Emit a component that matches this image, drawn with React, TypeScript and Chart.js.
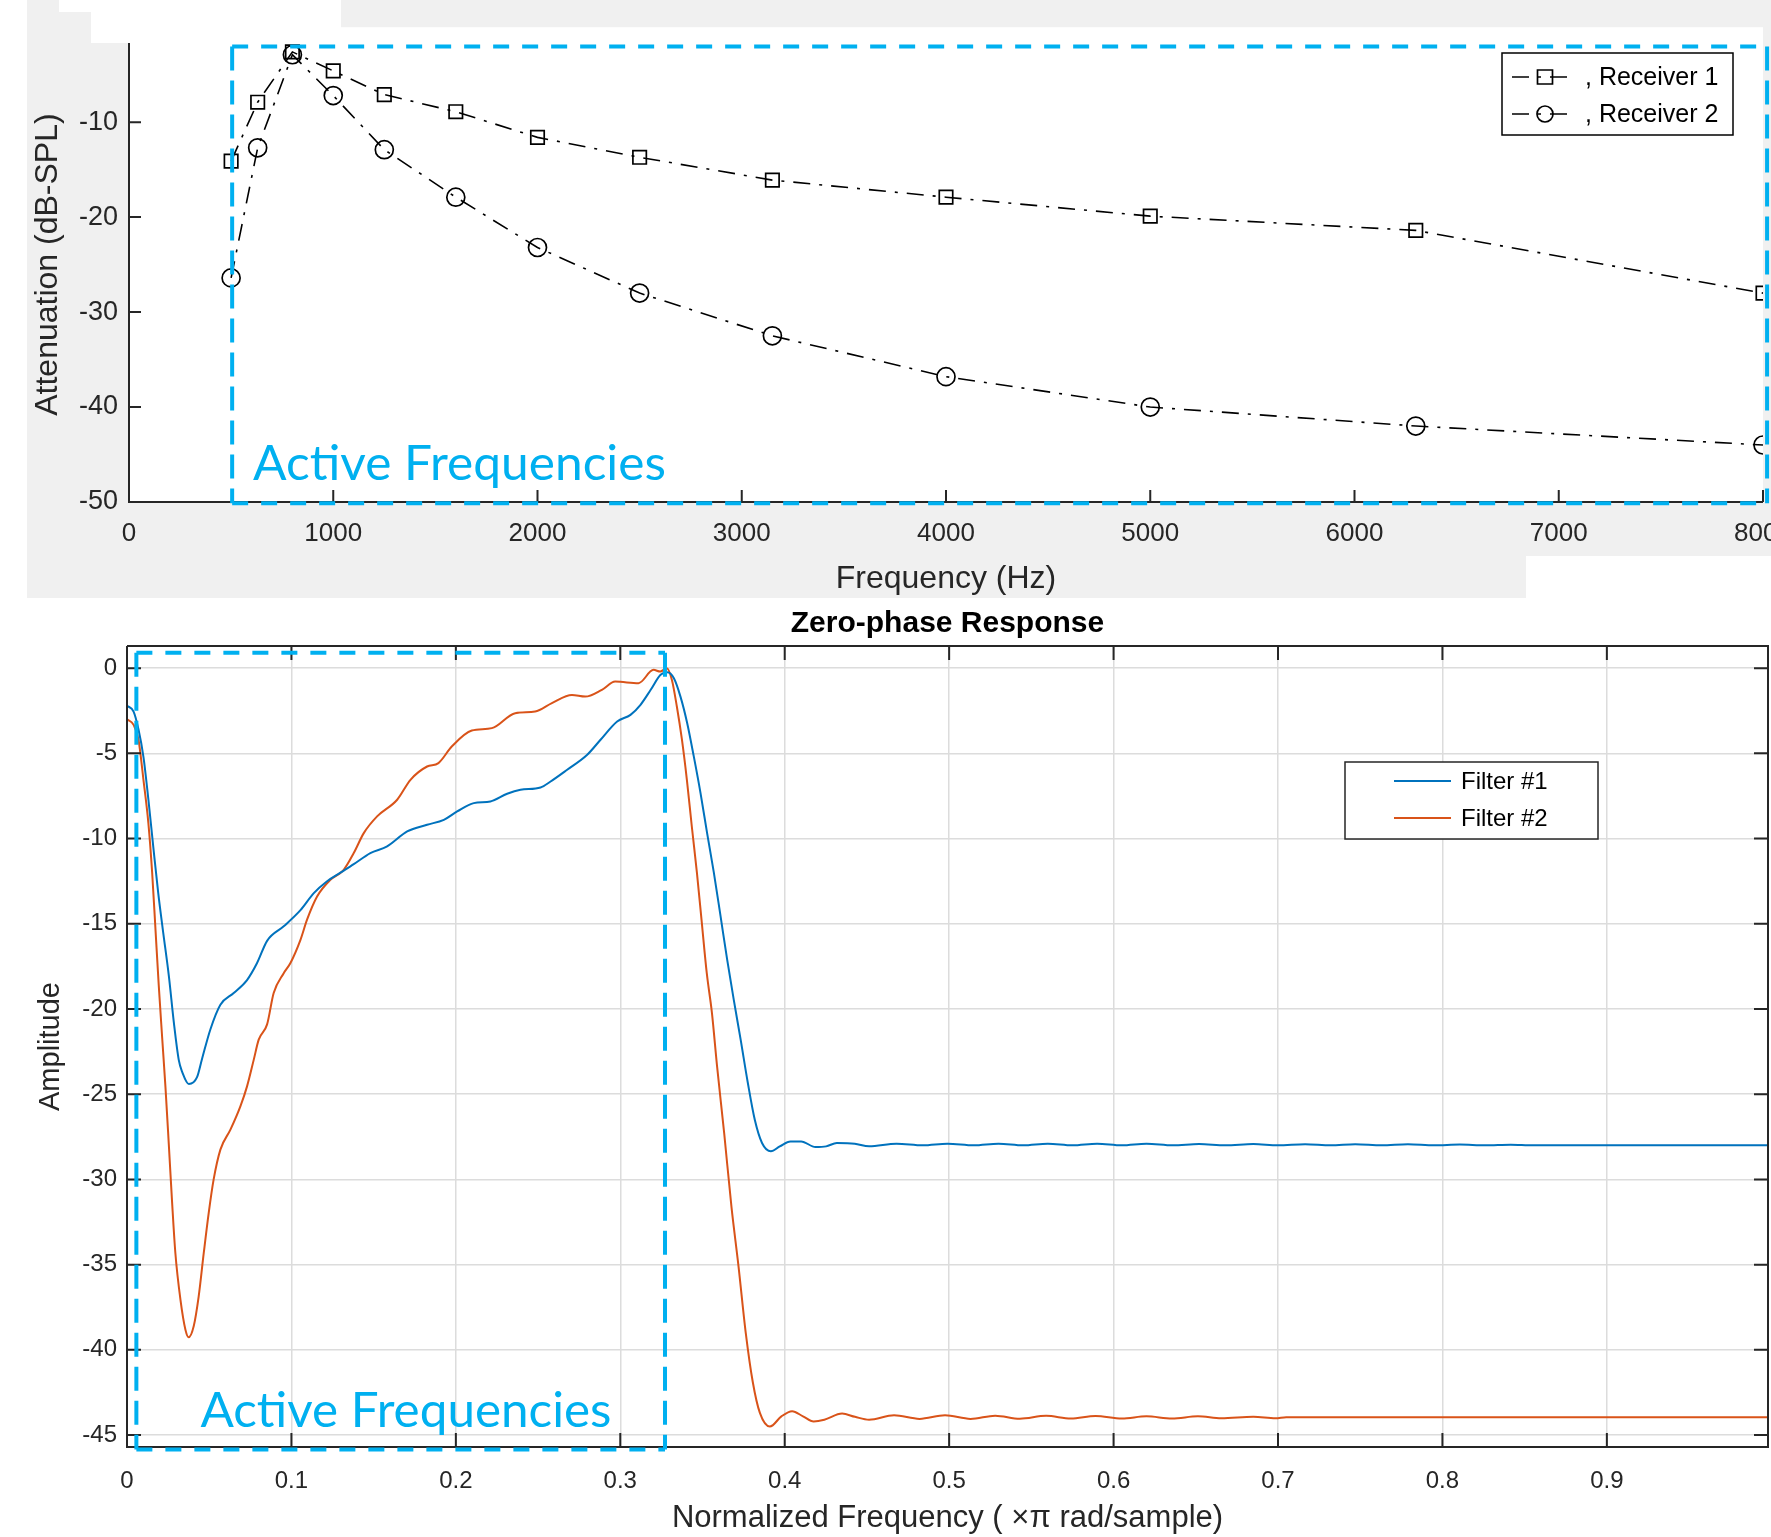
import React, { useEffect, useRef } from 'react';
import { Chart, registerables } from 'chart.js';

Chart.register(...registerables);

const FONT = "'Liberation Sans', Arial, Helvetica, sans-serif";
const ANNOT_FONT = "Lato, 'Open Sans', sans-serif";
const AXIS_COLOR = '#262626';
const HIGHLIGHT = '#00B0F0';
const ANNOT_TEXT = 'Active Frequencies';

// ---------------- Top chart: attenuation per receiver ----------------
const frequencyHz = [500, 630, 800, 1000, 1250, 1600, 2000, 2500, 3150, 4000, 5000, 6300, 8000];
const receiver1Db = [-14.1, -7.9, -2.6, -4.6, -7.1, -8.9, -11.6, -13.7, -16.1, -17.9, -19.9, -21.4, -28.0];
const receiver2Db = [-26.4, -12.7, -2.9, -7.2, -12.9, -17.9, -23.2, -28.0, -32.5, -36.8, -40.0, -42.0, -44.0];
const topXTickValues = [0, 1000, 2000, 3000, 4000, 5000, 6000, 7000, 8000];
const topYTickValues = [-50, -40, -30, -20, -10, 0];

// ---------------- Bottom chart: zero-phase response ----------------
const filter1Response: [number, number][] = [
  [0, -2.2], [0.004, -2.55], [0.007, -3.6], [0.01, -5.2], [0.013, -7.7], [0.016, -10.5],
  [0.019, -13.2], [0.022, -15.5], [0.0255, -18.1], [0.0285, -20.8], [0.0315, -23.0],
  [0.0336, -23.7], [0.0376, -24.4], [0.0426, -24.0], [0.0457, -22.9], [0.0507, -21.2],
  [0.0568, -19.75], [0.0649, -19.06], [0.073, -18.3], [0.0791, -17.3], [0.0852, -16.0],
  [0.0953, -15.15], [0.1055, -14.2], [0.1136, -13.2], [0.1217, -12.5], [0.1298, -12.0],
  [0.1379, -11.5], [0.148, -10.85], [0.1582, -10.46], [0.1704, -9.58], [0.1825, -9.19],
  [0.1927, -8.9], [0.2008, -8.41], [0.2109, -7.92], [0.221, -7.82], [0.2312, -7.37],
  [0.2393, -7.14], [0.2515, -7.0], [0.2576, -6.65], [0.2677, -5.96], [0.2799, -5.08],
  [0.288, -4.2], [0.2981, -3.13], [0.3062, -2.74], [0.3123, -2.15], [0.3185, -1.27],
  [0.3245, -0.39], [0.3285, -0.24], [0.3326, -0.59], [0.3366, -1.67], [0.3407, -3.23],
  [0.3447, -5.18], [0.3488, -7.33], [0.3528, -9.68], [0.3569, -12.0], [0.361, -14.57],
  [0.365, -17.1], [0.369, -19.45], [0.3732, -21.8], [0.3775, -24.3], [0.3818, -26.5],
  [0.3862, -27.86], [0.3916, -28.35], [0.397, -28.06], [0.4035, -27.77], [0.41, -27.77],
  [0.4187, -28.1], [0.4252, -28.06], [0.4317, -27.86], [0.4426, -27.9], [0.4513, -28.06],
  [0.468, -27.9], [0.484, -28.0], [0.499, -27.9], [0.515, -28.0], [0.53, -27.9],
  [0.545, -28.0], [0.56, -27.9], [0.575, -28.0], [0.59, -27.9], [0.605, -28.0],
  [0.62, -27.9], [0.636, -28.0], [0.652, -27.92], [0.668, -28.0], [0.685, -27.92],
  [0.7, -28.0], [0.7165, -27.93], [0.732, -28.0], [0.747, -27.93], [0.763, -28.0],
  [0.779, -27.94], [0.795, -28.0], [0.8106, -27.95], [0.826, -28.0], [0.8415, -27.96],
  [0.855, -28.0], [0.998, -28.0],
];
const filter2Response: [number, number][] = [
  [0, -3.0], [0.004, -3.33], [0.007, -4.2], [0.01, -6.55], [0.013, -9.09], [0.0153, -12.0],
  [0.0173, -15.3], [0.0193, -18.6], [0.0214, -21.7], [0.0234, -24.6], [0.0254, -27.9],
  [0.0274, -31.3], [0.0294, -34.3], [0.0325, -37.05], [0.0355, -38.8], [0.0375, -39.26],
  [0.0406, -38.6], [0.0436, -36.86], [0.0467, -34.3], [0.0497, -31.96], [0.0527, -30.0],
  [0.0568, -28.25], [0.0629, -27.08], [0.069, -25.7], [0.073, -24.54], [0.0771, -22.97],
  [0.0801, -21.8], [0.0852, -20.9], [0.0892, -19.06], [0.0953, -17.9], [0.0994, -17.3],
  [0.1055, -15.94], [0.1095, -14.76], [0.1156, -13.4], [0.1237, -12.42], [0.1318, -11.83],
  [0.1379, -10.85], [0.144, -9.68], [0.1521, -8.7], [0.1643, -7.72], [0.1724, -6.55],
  [0.1825, -5.77], [0.1894, -5.57], [0.1975, -4.6], [0.2097, -3.66], [0.2219, -3.52],
  [0.2361, -2.64], [0.2482, -2.55], [0.2584, -2.05], [0.2706, -1.57], [0.2787, -1.67],
  [0.2888, -1.27], [0.2969, -0.79], [0.3111, -0.88], [0.3202, -0.1], [0.3243, -0.2],
  [0.3283, 0.0], [0.3314, -0.69], [0.3344, -2.25], [0.3375, -4.2], [0.3405, -6.55],
  [0.3435, -9.29], [0.3466, -12.0], [0.3496, -14.96], [0.3526, -17.9], [0.3557, -20.2],
  [0.3589, -23.4], [0.3632, -27.3], [0.3676, -31.6], [0.3719, -35.1], [0.3763, -39.0],
  [0.3806, -41.9], [0.3849, -43.7], [0.391, -44.5], [0.398, -43.9], [0.4045, -43.6],
  [0.4111, -43.9], [0.4176, -44.2], [0.4241, -44.1], [0.4349, -43.74], [0.4427, -43.93],
  [0.4513, -44.1], [0.4665, -43.84], [0.482, -44.05], [0.4975, -43.84], [0.513, -44.05],
  [0.528, -43.86], [0.543, -44.04], [0.559, -43.87], [0.574, -44.03], [0.589, -43.88],
  [0.605, -44.03], [0.62, -43.9], [0.6355, -44.03], [0.6513, -43.9], [0.6655, -44.02],
  [0.685, -43.93], [0.6985, -44.02], [0.705, -43.95], [0.998, -43.95],
];
const bottomXTickValues = [0, 0.1, 0.2, 0.3, 0.4, 0.5, 0.6, 0.7, 0.8, 0.9];
const bottomYTickValues = [-45, -40, -35, -30, -25, -20, -15, -10, -5, 0];

// Highlighted "active frequency" regions (data units)
const topActiveRegion = { xMin: 505, xMax: 8020, yMin: -50.14, yMax: -2.04, labelX: 607, labelY: -47.7 };
const bottomActiveRegion = { xMin: 0.0057, xMax: 0.3272, yMin: -45.85, yMax: 0.91, labelX: 0.0447, labelY: -44.5 };

type Region = typeof topActiveRegion;

function seg(ctx: CanvasRenderingContext2D, x1: number, y1: number, x2: number, y2: number) {
  ctx.beginPath();
  ctx.moveTo(x1, y1);
  ctx.lineTo(x2, y2);
  ctx.stroke();
}

function activeRegionPlugin(region: Region, textWidth: number) {
  return {
    id: 'activeRegion',
    afterDraw(chart: any) {
      const { ctx, scales } = chart;
      const x = scales.x, y = scales.y;
      const l = x.getPixelForValue(region.xMin), r = x.getPixelForValue(region.xMax);
      const t = y.getPixelForValue(region.yMax), b = y.getPixelForValue(region.yMin);
      ctx.save();
      ctx.strokeStyle = HIGHLIGHT;
      ctx.lineWidth = 4;
      ctx.lineCap = 'butt';
      ctx.setLineDash([16, 13]);
      seg(ctx, l, t, r, t);
      seg(ctx, l, b, r, b);
      ctx.setLineDash([24, 10]);
      seg(ctx, l, t, l, b);
      seg(ctx, r, t, r, b);
      ctx.setLineDash([]);
      ctx.fillStyle = HIGHLIGHT;
      ctx.font = `400 48px ${ANNOT_FONT}`;
      ctx.textAlign = 'left';
      ctx.textBaseline = 'alphabetic';
      const w = ctx.measureText(ANNOT_TEXT).width;
      ctx.translate(x.getPixelForValue(region.labelX), y.getPixelForValue(region.labelY));
      ctx.scale(textWidth / w, 1);
      ctx.fillText(ANNOT_TEXT, 0, 0);
      ctx.restore();
    },
  };
}

function axesDecorPlugin(tickLen: number, lineWidth: number, box: boolean) {
  return {
    id: 'axesDecor',
    afterDatasetsDraw(chart: any) {
      const { ctx, chartArea: a, scales } = chart;
      const x = scales.x, y = scales.y;
      ctx.save();
      ctx.strokeStyle = AXIS_COLOR;
      ctx.lineWidth = lineWidth;
      ctx.setLineDash([]);
      ctx.beginPath();
      ctx.moveTo(a.left, a.top);
      ctx.lineTo(a.left, a.bottom);
      ctx.lineTo(a.right, a.bottom);
      if (box) {
        ctx.lineTo(a.right, a.top);
        ctx.lineTo(a.left, a.top);
      }
      x.ticks.forEach((tk: any) => {
        const p = x.getPixelForValue(tk.value);
        ctx.moveTo(p, a.bottom);
        ctx.lineTo(p, a.bottom - tickLen);
        if (box) {
          ctx.moveTo(p, a.top);
          ctx.lineTo(p, a.top + tickLen);
        }
      });
      y.ticks.forEach((tk: any) => {
        const p = y.getPixelForValue(tk.value);
        ctx.moveTo(a.left, p);
        ctx.lineTo(a.left + tickLen, p);
        if (box) {
          ctx.moveTo(a.right, p);
          ctx.lineTo(a.right - tickLen, p);
        }
      });
      ctx.stroke();
      ctx.restore();
    },
  };
}

const plotBgPlugin = {
  id: 'plotBg',
  beforeDraw(chart: any) {
    const { ctx, chartArea: a } = chart;
    ctx.save();
    ctx.fillStyle = '#ffffff';
    ctx.fillRect(a.left, a.top, a.right - a.left, a.bottom - a.top);
    ctx.restore();
  },
};

const topLegendPlugin = {
  id: 'topLegend',
  afterDraw(chart: any) {
    const { ctx, chartArea } = chart;
    const bx = chartArea.right - 261, by = 53, bw = 231, bh = 82;
    ctx.save();
    ctx.fillStyle = '#fff';
    ctx.fillRect(bx, by, bw, bh);
    ctx.strokeStyle = '#000';
    ctx.lineWidth = 1.5;
    ctx.setLineDash([]);
    ctx.strokeRect(bx, by, bw, bh);
    chart.data.datasets.forEach((ds: any, i: number) => {
      const cy = by + 24 + i * 37;
      ctx.strokeStyle = ds.borderColor;
      ctx.lineWidth = ds.borderWidth;
      ctx.setLineDash(ds.borderDash);
      seg(ctx, bx + 10, cy, bx + 74, cy);
      ctx.setLineDash([]);
      ctx.lineWidth = ds.pointBorderWidth;
      const mx = bx + 43;
      ctx.beginPath();
      if (ds.pointStyle === 'rect') {
        ctx.rect(mx - 7.5, cy - 7, 15, 14);
      } else {
        ctx.arc(mx, cy, 8, 0, Math.PI * 2);
      }
      ctx.stroke();
      ctx.fillStyle = '#000';
      ctx.font = `25px ${FONT}`;
      ctx.textAlign = 'left';
      ctx.textBaseline = 'middle';
      ctx.fillText(ds.label, bx + 83, cy + 1);
    });
    ctx.restore();
  },
};

const bottomLegendPlugin = {
  id: 'bottomLegend',
  afterDraw(chart: any) {
    const { ctx, chartArea } = chart;
    const bx = chartArea.right - 423, by = chartArea.top + 116, bw = 253, bh = 77;
    ctx.save();
    ctx.fillStyle = '#fff';
    ctx.fillRect(bx, by, bw, bh);
    ctx.strokeStyle = AXIS_COLOR;
    ctx.lineWidth = 1.5;
    ctx.strokeRect(bx, by, bw, bh);
    chart.data.datasets.forEach((ds: any, i: number) => {
      const cy = by + 19 + i * 37;
      ctx.strokeStyle = ds.borderColor;
      ctx.lineWidth = ds.borderWidth;
      seg(ctx, bx + 49, cy, bx + 106, cy);
      ctx.fillStyle = '#000';
      ctx.font = `24px ${FONT}`;
      ctx.textAlign = 'left';
      ctx.textBaseline = 'middle';
      ctx.fillText(ds.label, bx + 116, cy + 1);
    });
    ctx.restore();
  },
};

function fixedTicks(values: number[]) {
  return (scale: any) => {
    scale.ticks = values.map((v) => ({ value: v }));
  };
}

function makeTopConfig(): any {
  const dash = [17, 9, 3, 9];
  return {
    type: 'scatter',
    data: {
      datasets: [
        {
          label: ', Receiver 1',
          data: frequencyHz.map((f, i) => ({ x: f, y: receiver1Db[i] })),
          showLine: true,
          borderColor: '#000',
          borderWidth: 1.6,
          borderDash: dash,
          pointStyle: 'rect',
          pointRadius: 9.5,
          pointBorderColor: '#000',
          pointBackgroundColor: 'rgba(0,0,0,0)',
          pointBorderWidth: 1.7,
        },
        {
          label: ', Receiver 2',
          data: frequencyHz.map((f, i) => ({ x: f, y: receiver2Db[i] })),
          showLine: true,
          borderColor: '#000',
          borderWidth: 1.6,
          borderDash: dash,
          pointStyle: 'circle',
          pointRadius: 9,
          pointBorderColor: '#000',
          pointBackgroundColor: 'rgba(0,0,0,0)',
          pointBorderWidth: 1.7,
        },
      ],
    },
    options: {
      responsive: false,
      animation: false,
      layout: { padding: { left: 0, right: 67, top: 26.6, bottom: 0 } },
      plugins: { legend: { display: false }, tooltip: { enabled: false }, title: { display: false } },
      scales: {
        x: {
          type: 'linear',
          position: 'bottom',
          min: 0,
          max: 8000,
          afterBuildTicks: fixedTicks(topXTickValues),
          afterFit: (s: any) => { s.height = 96; },
          grid: { display: false, drawTicks: false },
          border: { display: false },
          ticks: {
            color: AXIS_COLOR, font: { family: FONT, size: 26 }, padding: 16,
            maxRotation: 0, autoSkip: false, callback: (v: any) => String(v),
          },
          title: { display: true, text: 'Frequency (Hz)', color: AXIS_COLOR, font: { family: FONT, size: 32 }, padding: { top: 0, bottom: 0 } },
        },
        y: {
          type: 'linear',
          min: -50,
          max: 0,
          afterBuildTicks: fixedTicks(topYTickValues),
          afterFit: (s: any) => { s.width = 129; },
          grid: { display: false, drawTicks: false },
          border: { display: false },
          ticks: { color: AXIS_COLOR, font: { family: FONT, size: 27 }, padding: 11, autoSkip: false, callback: (v: any) => String(v) },
          title: { display: true, text: 'Attenuation (dB-SPL)', color: AXIS_COLOR, font: { family: FONT, size: 32 }, padding: { top: 29, bottom: 0 } },
        },
      },
    },
    plugins: [plotBgPlugin, axesDecorPlugin(12, 2, false), topLegendPlugin, activeRegionPlugin(topActiveRegion, 413)],
  };
}

function makeBottomConfig(): any {
  return {
    type: 'scatter',
    data: {
      datasets: [
        {
          label: 'Filter #1',
          data: filter1Response.map(([x, y]) => ({ x, y })),
          showLine: true,
          borderColor: '#0072BD',
          borderWidth: 2,
          pointRadius: 0,
          cubicInterpolationMode: 'monotone',
        },
        {
          label: 'Filter #2',
          data: filter2Response.map(([x, y]) => ({ x, y })),
          showLine: true,
          borderColor: '#D95319',
          borderWidth: 2,
          pointRadius: 0,
          cubicInterpolationMode: 'monotone',
        },
      ],
    },
    options: {
      responsive: false,
      animation: false,
      layout: { padding: { left: 0, right: 3, top: 0, bottom: 0 } },
      plugins: {
        legend: { display: false },
        tooltip: { enabled: false },
        title: {
          display: true, fullSize: false, text: 'Zero-phase Response', color: '#000',
          font: { family: FONT, size: 30, weight: 'bold' }, padding: { top: 8, bottom: 4 },
        },
      },
      scales: {
        x: {
          type: 'linear',
          min: 0,
          max: 0.998,
          afterBuildTicks: fixedTicks(bottomXTickValues),
          afterFit: (s: any) => { s.height = 90; },
          grid: { color: '#dcdcdc', lineWidth: 1.5, drawTicks: false },
          border: { display: false },
          ticks: { color: AXIS_COLOR, font: { family: FONT, size: 24 }, padding: 20, maxRotation: 0, autoSkip: false, callback: (v: any) => String(v) },
          title: { display: true, text: 'Normalized Frequency ( \u00d7\u03c0 rad/sample)', color: AXIS_COLOR, font: { family: FONT, size: 31 }, padding: { top: 0, bottom: 0 } },
        },
        y: {
          type: 'linear',
          min: -45.7,
          max: 1.3,
          afterBuildTicks: fixedTicks(bottomYTickValues),
          afterFit: (s: any) => { s.width = 127; },
          grid: { color: '#dcdcdc', lineWidth: 1.5, drawTicks: false },
          border: { display: false },
          ticks: { color: AXIS_COLOR, font: { family: FONT, size: 24 }, padding: 10, autoSkip: false, callback: (v: any) => String(v) },
          title: { display: true, text: 'Amplitude', color: AXIS_COLOR, font: { family: FONT, size: 29 }, padding: { top: 34, bottom: 0 } },
        },
      },
    },
    plugins: [axesDecorPlugin(14, 2, true), bottomLegendPlugin, activeRegionPlugin(bottomActiveRegion, 411)],
  };
}

export default function App() {
  const topRef = useRef<HTMLCanvasElement>(null);
  const bottomRef = useRef<HTMLCanvasElement>(null);

  useEffect(() => {
    const top = new Chart(topRef.current as HTMLCanvasElement, makeTopConfig());
    const bottom = new Chart(bottomRef.current as HTMLCanvasElement, makeBottomConfig());
    return () => {
      top.destroy();
      bottom.destroy();
    };
  }, []);

  const abs = (left: number, top: number, width: number, height: number, extra: any = {}) => ({
    position: 'absolute' as const, left, top, width, height, ...extra,
  });

  return (
    <div style={abs(0, 0, 1771, 1537, { overflow: 'hidden', background: '#ffffff' })}>
      <div style={abs(27, 0, 1744, 598, { background: '#f0f0f0' })} />
      <div style={abs(0, 0, 1830, 598)}>
        <canvas ref={topRef} width={1830} height={598} style={{ display: 'block', width: 1830, height: 598 }} />
      </div>
      <div style={abs(59, 0, 282, 12, { background: '#ffffff' })} />
      <div style={abs(91, 12, 250, 31, { background: '#ffffff' })} />
      <div style={abs(1526, 556, 245, 42, { background: '#ffffff' })} />
      <div style={abs(0, 598, 1771, 939)}>
        <canvas ref={bottomRef} width={1771} height={939} style={{ display: 'block', width: 1771, height: 939 }} />
      </div>
    </div>
  );
}
